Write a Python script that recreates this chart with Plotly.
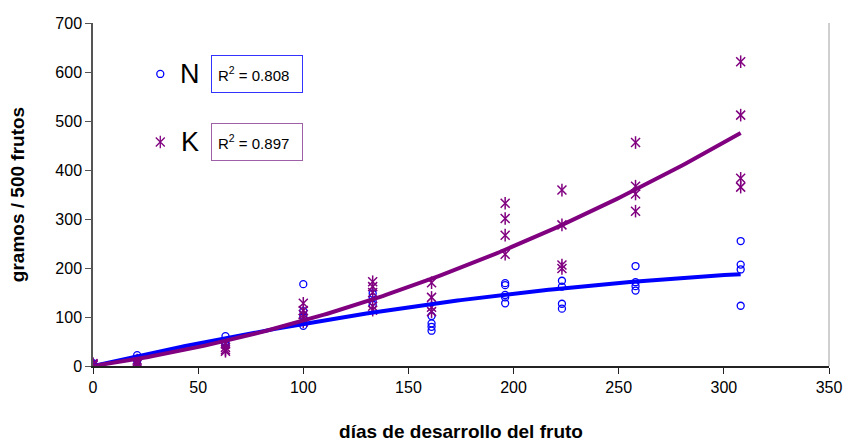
import numpy as np
import plotly.graph_objects as go

# Sampling days and measured values (g / 500 fruits) per sampling date
days = [0, 21, 63, 100, 133, 161, 196, 223, 258, 308]
n_values = [
    [2, 4, 6, 3],
    [22, 15, 12, 10],
    [61, 50, 45, 42],
    [167, 112, 100, 90, 82],
    [148, 140, 132, 125],
    [102, 87, 80, 72],
    [169, 165, 145, 140, 128],
    [174, 162, 127, 117],
    [204, 171, 163, 154],
    [255, 207, 197, 123],
]
k_values = [
    [1, 3, 5, 2],
    [12, 8, 5, 4],
    [45, 38, 33, 30],
    [128, 113, 105, 97, 90],
    [172, 162, 150, 122, 114],
    [170, 140, 120, 111],
    [332, 301, 267, 228],
    [359, 288, 206, 199],
    [456, 367, 351, 316],
    [621, 512, 383, 365],
]
r2_labels = {"N": "0.808", "K": "0.897"}

BLUE = "#0000FF"
PURPLE = "#800080"
FONT = "Liberation Sans, Arial, sans-serif"


def flatten(groups):
    xs, ys = [], []
    for d, vals in zip(days, groups):
        xs += [d] * len(vals)
        ys += vals
    return np.array(xs, float), np.array(ys, float)


def quad_through_origin(x, y, xs):
    # least squares y = a*x + b*x^2 (intercept fixed at 0)
    A = np.column_stack([x, x ** 2])
    (a, b), *_ = np.linalg.lstsq(A, y, rcond=None)
    return a * xs + b * xs ** 2


nx, ny = flatten(n_values)
kx, ky = flatten(k_values)

xfit = np.linspace(0, max(days), 200)
n_fit = quad_through_origin(nx, ny, xfit)
k_fit = quad_through_origin(kx, ky, xfit)

fig = go.Figure()

fig.add_trace(go.Scatter(x=nx, y=ny, mode="markers", name="N",
                         marker=dict(symbol="circle-open", size=7, color=BLUE,
                                     line=dict(width=1.3, color=BLUE))))
# K marker: x with a vertical stroke
for sym in ["x-thin-open", "line-ns-open"]:
    fig.add_trace(go.Scatter(x=kx, y=ky, mode="markers", name="K",
                             marker=dict(symbol=sym, size=9, color=PURPLE,
                                         line=dict(width=1.5, color=PURPLE))))

fig.add_trace(go.Scatter(x=xfit, y=n_fit, mode="lines",
                         line=dict(color=BLUE, width=4)))
fig.add_trace(go.Scatter(x=xfit, y=k_fit, mode="lines",
                         line=dict(color=PURPLE, width=4)))

# legend block: symbol, series letter, R² box
legend_rows = [("N", 596, BLUE, "#3333FF", "circle-open", None),
               ("K", 457, PURPLE, "#A060A8", "x-thin-open", "line-ns-open")]
for name, yv, col, box_col, sym1, sym2 in legend_rows:
    for sym in [s for s in (sym1, sym2) if s]:
        fig.add_trace(go.Scatter(x=[32], y=[yv], mode="markers",
                                 marker=dict(symbol=sym, size=7 if sym == "circle-open" else 9,
                                             color=col, line=dict(width=1.3, color=col))))
    fig.add_annotation(x=46, y=yv, text=name, showarrow=False,
                       font=dict(family=FONT, size=27, color="black"))
    fig.add_annotation(x=56.2, y=yv, xanchor="left", showarrow=False,
                       text="R<sup>2</sup> = " + r2_labels[name],
                       font=dict(family=FONT, size=15, color="black"),
                       bordercolor=box_col, borderwidth=1, borderpad=6,
                       width=78, height=24, align="left")

# thin grey border on the right edge of the plot area
fig.add_shape(type="line", xref="paper", yref="paper", x0=1, x1=1, y0=0, y1=1,
              line=dict(color="#A0A0A0", width=1))

fig.update_layout(
    width=848, height=443,
    margin=dict(l=93, r=19, t=23, b=77),
    paper_bgcolor="white", plot_bgcolor="white",
    showlegend=False,
    font=dict(family=FONT, size=16, color="black"),
)
fig.update_xaxes(range=[0, 350], tickvals=list(range(0, 351, 50)),
                 showgrid=False, zeroline=False, showline=True,
                 linecolor="#222222", linewidth=1.5,
                 ticks="outside", ticklen=6, tickcolor="#222222",
                 tickfont=dict(size=16), automargin=False,
                 title=dict(text="<b>días de desarrollo del fruto</b>",
                            font=dict(size=19), standoff=30))
fig.update_yaxes(range=[0, 700], tickvals=list(range(0, 701, 100)),
                 showgrid=False, zeroline=False, showline=True,
                 linecolor="#555555", linewidth=1.5,
                 ticks="outside", ticklen=6, tickcolor="#555555",
                 tickfont=dict(size=16), automargin=False,
                 title=dict(text="<b>gramos / 500 frutos</b>",
                            font=dict(size=19), standoff=26))

fig.write_html("out.html")
